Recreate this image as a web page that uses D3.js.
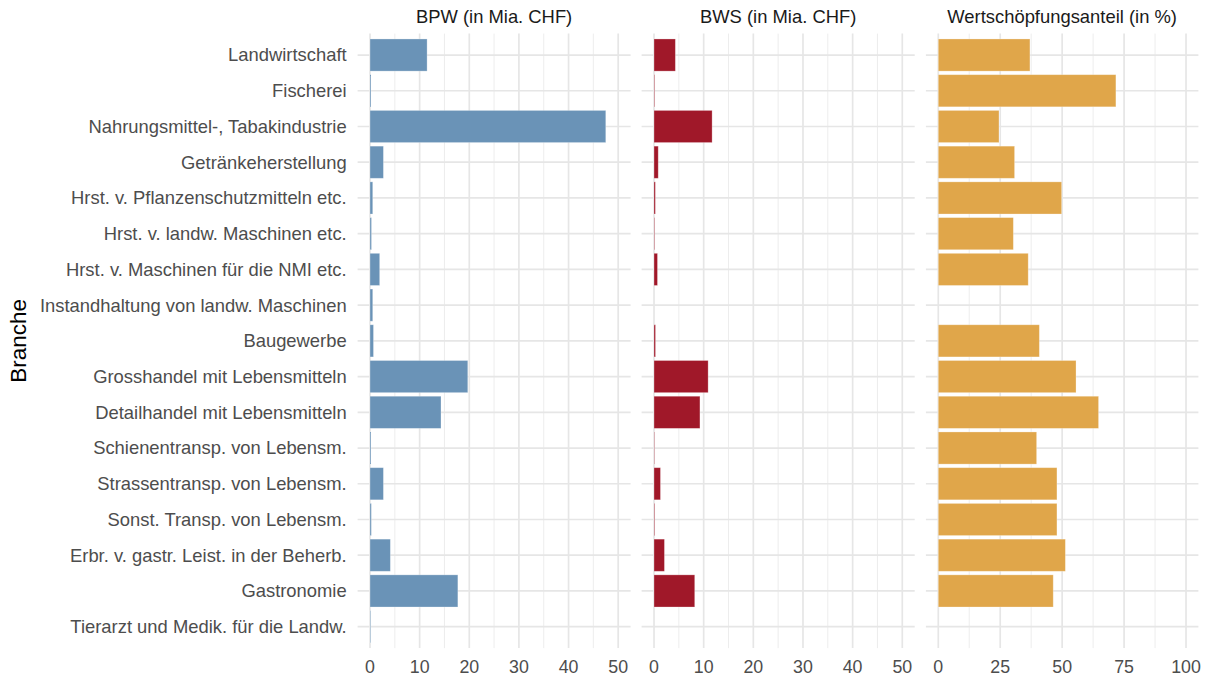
<!DOCTYPE html>
<html>
    <head>
        <meta charset="utf-8">
        <title>Branchen</title>
        <script src="https://d3js.org/d3.v7.min.js"></script>
        <style>
            body {
                margin: 0;
                background: #fff;
            }
            svg {
                display: block;
                font-family: "Liberation Sans", Arial, sans-serif;
            }
        </style>
    </head>
    <body>
        <svg id="chart"></svg>

        <script>
            const branchen = [
                "Landwirtschaft",
                "Fischerei",
                "Nahrungsmittel-, Tabakindustrie",
                "Getränkeherstellung",
                "Hrst. v. Pflanzenschutzmitteln etc.",
                "Hrst. v. landw. Maschinen etc.",
                "Hrst. v. Maschinen für die NMI etc.",
                "Instandhaltung von landw. Maschinen",
                "Baugewerbe",
                "Grosshandel mit Lebensmitteln",
                "Detailhandel mit Lebensmitteln",
                "Schienentransp. von Lebensm.",
                "Strassentransp. von Lebensm.",
                "Sonst. Transp. von Lebensm.",
                "Erbr. v. gastr. Leist. in der Beherb.",
                "Gastronomie",
                "Tierarzt und Medik. für die Landw."
            ];
            // Bruttoproduktionswert (Mia. CHF)
            const bpw = [11.5, 0.2, 47.5, 2.7, 0.55, 0.3, 1.95, 0.55, 0.7, 19.7, 14.3, 0.2, 2.7, 0.27, 4.1, 17.7, 0.13];
            // Bruttowertschöpfung (Mia. CHF)
            const bws = [4.3, 0.12, 11.7, 0.85, 0.27, 0.1, 0.7, null, 0.3, 10.9, 9.25, 0.08, 1.3, 0.13, 2.1, 8.2, null];
            // Wertschöpfungsanteil (%)
            const anteil = [37.0, 71.7, 24.5, 30.8, 49.8, 30.3, 36.3, null, 40.8, 55.6, 64.7, 39.7, 47.9, 47.9, 51.3, 46.4, null];

            const panelTitles = ["BPW (in Mia. CHF)", "BWS (in Mia. CHF)", "Wertschöpfungsanteil (in %)"];
            const panelColors = ["#6A93B7", "#A01829", "#E0A64A"];
            const majorTicks = [[0, 10, 20, 30, 40, 50], [0, 10, 20, 30, 40, 50], [0, 25, 50, 75, 100]];
            const minorTicks = [[5, 15, 25, 35, 45], [5, 15, 25, 35, 45], [12.5, 37.5, 62.5, 87.5]];
            const limits = [[0, 50], [0, 50], [0, 100]];

            const width = 1216;
            const height = 678;
            const fontSize = 18.4;

            const svg = d3.select("#chart")
                .attr("width", width)
                .attr("height", height);

            const plotTop = 33.6, plotBottom = 648.1;
            const panelX = [[357.6, 630.6], [641.6, 914.7], [925.9, 1198.4]];

            const y = d3.scalePoint()
                .domain(branchen)
                .range([plotTop, plotBottom])
                .padding(0.6);
            const barH = y.step() * 0.9;

            const series = [bpw, bws, anteil];

            // category labels
            svg.append("g")
                .selectAll("text")
                .data(branchen)
                .enter()
                .append("text")
                .attr("x", 346.7)
                .attr("y", d => y(d))
                .attr("dy", "0.35em")
                .attr("text-anchor", "end")
                .style("font-size", fontSize + "px")
                .style("fill", "#4D4D4D")
                .text(d => d);

            svg.append("text")
                .attr("transform", `translate(26, ${(plotTop + plotBottom) / 2}) rotate(-90)`)
                .attr("text-anchor", "middle")
                .style("font-size", "22.5px")
                .style("fill", "#000")
                .text("Branche");

            series.forEach((vals, p) => {
                const lim = limits[p];
                const pad = (lim[1] - lim[0]) * 0.05;
                const x = d3.scaleLinear()
                    .domain([lim[0] - pad, lim[1] + pad])
                    .range(panelX[p]);

                const g = svg.append("g");

                // minor grid
                g.selectAll(".minor")
                    .data(minorTicks[p])
                    .enter()
                    .append("line")
                    .attr("x1", d => x(d))
                    .attr("x2", d => x(d))
                    .attr("y1", plotTop)
                    .attr("y2", plotBottom)
                    .attr("stroke", "#EBEBEB")
                    .attr("stroke-width", 0.9);

                // major grid
                g.selectAll(".major")
                    .data(majorTicks[p])
                    .enter()
                    .append("line")
                    .attr("x1", d => x(d))
                    .attr("x2", d => x(d))
                    .attr("y1", plotTop)
                    .attr("y2", plotBottom)
                    .attr("stroke", "#E6E6E6")
                    .attr("stroke-width", 1.7);

                g.selectAll(".hgrid")
                    .data(branchen)
                    .enter()
                    .append("line")
                    .attr("x1", panelX[p][0])
                    .attr("x2", panelX[p][1])
                    .attr("y1", d => y(d))
                    .attr("y2", d => y(d))
                    .attr("stroke", "#E6E6E6")
                    .attr("stroke-width", 1.7);

                // bars
                const rows = branchen.map((b, i) => ({ name: b, value: vals[i] }))
                    .filter(d => d.value != null);

                g.selectAll(".bar")
                    .data(rows)
                    .enter()
                    .append("rect")
                    .attr("x", x(0))
                    .attr("y", d => y(d.name) - barH / 2)
                    .attr("width", d => x(d.value) - x(0))
                    .attr("height", barH)
                    .attr("fill", panelColors[p])
                    .attr("stroke", "rgba(255,255,255,0.35)")
                    .attr("stroke-width", 0.8);

                // tick labels
                g.selectAll(".tick")
                    .data(majorTicks[p])
                    .enter()
                    .append("text")
                    .attr("x", d => x(d))
                    .attr("y", 673.3)
                    .attr("text-anchor", "middle")
                    .style("font-size", "17.8px")
                    .style("fill", "#4D4D4D")
                    .text(d => d);

                // strip title
                g.append("text")
                    .attr("x", (panelX[p][0] + panelX[p][1]) / 2)
                    .attr("y", 23.3)
                    .attr("text-anchor", "middle")
                    .style("font-size", fontSize + "px")
                    .style("fill", "#1A1A1A")
                    .text(panelTitles[p]);
            });
        </script>
    </body>
</html>
